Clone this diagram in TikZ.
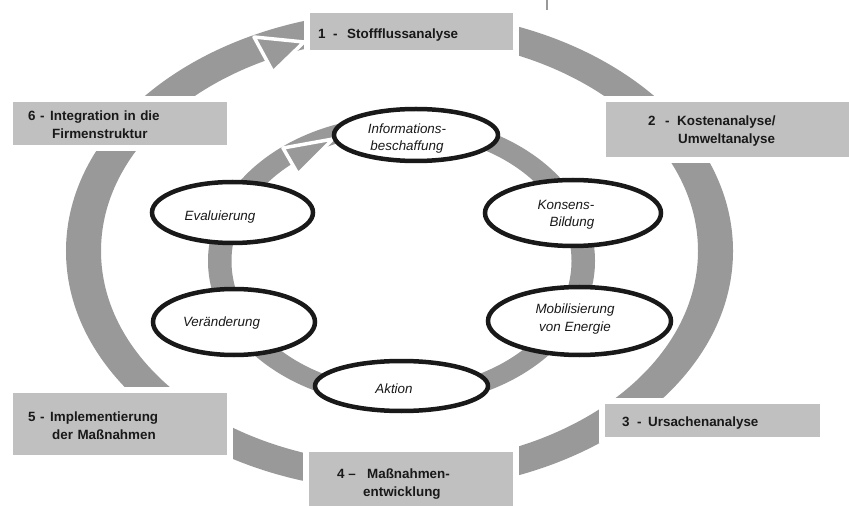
\documentclass[tikz,border=0pt]{standalone}
\usepackage{fontspec}
\setmainfont{Liberation Sans}
\usetikzlibrary{shapes.geometric}
\definecolor{ringgray}{RGB}{153,153,153}
\definecolor{boxgray}{RGB}{192,192,192}
\definecolor{inkblack}{RGB}{25,25,25}
\newcommand{\lift}[1]{\rule{0pt}{#1}}
\begin{document}
\begin{tikzpicture}[x=1bp,y=-1bp,
  boxnode/.style={rectangle, anchor=north west, fill=boxgray,
    preaction={draw=white, line width=12bp}, inner ysep=0pt, align=left,
    font=\fontsize{13.4bp}{18bp}\selectfont\bfseries, text=inkblack},
  elli/.style={ellipse, draw=inkblack, fill=white, line width=4.5bp, inner sep=0pt},
  etext/.style={font=\fontsize{13.4bp}{17.5bp}\selectfont\itshape, text=inkblack, inner sep=0pt},
  headshape/.style={fill=ringgray, draw=white, line width=3.5bp, line join=round}
]
\useasboundingbox (0,0) rectangle (849,506);
\fill[white] (0,0) rectangle (849,506);

% outer ring
\fill[ringgray, even odd rule]
  (399.5,251) ellipse [x radius=333.5bp, y radius=240bp]
  (399.5,251) ellipse [x radius=298.5bp, y radius=213bp];
% inner ring
\fill[ringgray, even odd rule]
  (401.5,261) ellipse [x radius=193.5bp, y radius=145bp]
  (401.5,261) ellipse [x radius=170bp, y radius=127bp];

% arrow heads
\filldraw[headshape] (254,37) -- (273,72) -- (304,42) -- cycle;
\filldraw[headshape] (283,148) -- (298,174) -- (333,139) -- cycle;

% small mark at the top
\draw[ringgray, line width=1.5bp] (547,0) -- (547,10);

% boxes
\node[boxnode, inner xsep=8bp, text width=187bp, minimum height=37bp] (b1) at (310,13)
  {\lift{16.8bp}\makebox[15bp][l]{1}\makebox[14bp][l]{-}Stoffflussanalyse};
\node[boxnode, inner xsep=42bp, text width=166bp, minimum height=55bp] (b2) at (606,102)
  {\lift{12.8bp}\makebox[17bp][l]{2}\makebox[12bp][l]{-}Kostenanalyse/\\\hspace*{30bp}Umweltanalyse};
\node[boxnode, inner xsep=17bp, text width=181bp, minimum height=33bp] (b3) at (605,404)
  {\lift{14.8bp}\makebox[15bp][l]{3}\makebox[11bp][l]{-}Ursachenanalyse};
\node[boxnode, inner xsep=28bp, text width=148bp, minimum height=64bp] (b4) at (309,452)
  {\makebox[10bp][l]{4}\makebox[10bp][c]{--}\hspace{10bp}Maßnahmen-\\\hspace*{26bp}entwicklung};
\node[boxnode, inner xsep=15bp, text width=184bp, minimum height=62bp] (b5) at (13,393)
  {\lift{12.8bp}\makebox[12bp][l]{5}\makebox[10bp][l]{-}Implementierung\\\hspace*{24bp}der Maßnahmen};
\node[boxnode, inner xsep=15bp, text width=184bp, minimum height=43bp] (b6) at (13,102)
  {\lift{11.5bp}\makebox[12bp][l]{6}\makebox[10bp][l]{-}Integration in die\\\hspace*{24bp}Firmenstruktur};

% ellipses
\node[elli, minimum width=164bp, minimum height=52bp] (e1) at (416,135) {};
\node[elli, minimum width=176bp, minimum height=66bp] (e2) at (573,213) {};
\node[elli, minimum width=183bp, minimum height=68bp] (e3) at (579.5,321) {};
\node[elli, minimum width=173bp, minimum height=50bp] (e4) at (401.5,386) {};
\node[elli, minimum width=162bp, minimum height=66bp] (e5) at (234,322) {};
\node[elli, minimum width=161bp, minimum height=61bp] (e6) at (232.5,212.5) {};

% ellipse texts
\node[etext, align=center] (t1) at (407,138.5) {Informations-\\beschaffung};
\node[etext, align=right] (t2) at (566,215) {Konsens-\\Bildung};
\node[etext, align=center] (t3) at (575,319) {Mobilisierung\\von Energie};
\node[etext] (t4) at (394,389) {Aktion};
\node[etext] (t5) at (221.5,323) {Veränderung};
\node[etext] (t6) at (220,217) {Evaluierung};
\end{tikzpicture}
\end{document}
